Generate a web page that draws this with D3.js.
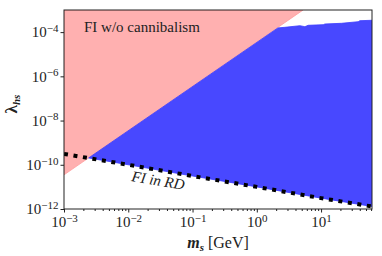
<!DOCTYPE html>
<html>
<head>
<meta charset="utf-8">
<script src="https://cdn.jsdelivr.net/npm/d3@7"></script>
<style>
  body { margin: 0; background: #fff; }
  svg, svg text, svg tspan { font-family: 'Liberation Serif', 'Times New Roman', serif !important; }
</style>
</head>
<body>
<svg id="chart" width="382" height="256"></svg>
<script>
// axis ranges and ticks
var xDomain = [1e-3, 62]
  , yDomain = [1e-12, 1e-3]
  , xMajor = [1e-3, 1e-2, 1e-1, 1, 10]
  , yMajor = [1e-12, 1e-10, 1e-8, 1e-6, 1e-4]

// boundary of "FI w/o cannibalism" (red) region: lambda ~ m^2
var redEdge = [[1e-3, 3.5e-11], [5.25, 1e-3]]

// FI in RD line (dotted)
var fiMass = [1e-3, 1e-2, 1e-1, 1, 10, 62]
  , fiLambda = [3.1e-10, 1.0e-10, 3.1e-11, 1.0e-11, 3.1e-12, 1.3e-12]

// blue region outline
var blueLower = [[2.42e-3, 2.04e-10], [1e-2, 1.0e-10], [1e-1, 3.1e-11], [1, 1.0e-11], [10, 3.1e-12], [62, 1.3e-12]]
var blueTop = [[62, 3.43e-4], [40.1, 3.28e-4], [37.8, 2.96e-4], [20.8, 2.5e-4], [11.5, 2.33e-4],
               [10.8, 2.17e-4], [6.3, 2.03e-4], [5.6, 1.76e-4], [4.68, 1.95e-4], [2.74, 1.65e-4], [2.13, 1.55e-4]]

var margin = { top: 10, right: 10, bottom: 47, left: 64 }
  , W = 382, H = 256

var svg = d3.select('#chart')

var x = d3.scaleLog().domain(xDomain).range([margin.left, W - margin.right])
  , y = d3.scaleLog().domain(yDomain).range([H - margin.bottom, margin.top])

svg.append('clipPath').attr('id', 'clip')
  .append('rect')
  .attr('x', x.range()[0]).attr('y', y.range()[1])
  .attr('width', x.range()[1] - x.range()[0])
  .attr('height', y.range()[0] - y.range()[1])

var plot = svg.append('g').attr('clip-path', 'url(#clip)')
var line = d3.line().x(function (d) { return x(d[0]) }).y(function (d) { return y(d[1]) })

// red region
var redPoly = redEdge.concat([[xDomain[0], yDomain[1]]])
plot.append('path')
  .attr('d', line(redPoly) + 'Z')
  .attr('fill', '#ffb0b0')
  .attr('stroke', '#ff9c9c')
  .attr('stroke-width', 0.8)

// blue region
plot.append('path')
  .attr('d', line(blueLower.concat(blueTop)) + 'Z')
  .attr('fill', '#4848ff')
  .attr('stroke', '#3a3aff')
  .attr('stroke-width', 0.8)

// FI in RD dotted line
plot.append('path')
  .attr('d', line(d3.zip(fiMass, fiLambda)))
  .attr('fill', 'none')
  .attr('stroke', '#000')
  .attr('stroke-width', 4)
  .attr('stroke-dasharray', '4,5.6')

// frame
svg.append('rect')
  .attr('x', x.range()[0]).attr('y', y.range()[1])
  .attr('width', x.range()[1] - x.range()[0])
  .attr('height', y.range()[0] - y.range()[1])
  .attr('fill', 'none').attr('stroke', '#222').attr('stroke-width', 1)

function sup(sel) {
  sel.each(function (d) {
    var t = d3.select(this).text(null)
    var e = Math.round(Math.log10(d))
    t.append('tspan').text('10')
    t.append('tspan').attr('dy', '-0.5em').attr('font-size', 11).text((e < 0 ? '\u2212' : '') + Math.abs(e))
  })
}

// x axis
var minor = []
d3.range(-3, 2).forEach(function (e) {
  d3.range(2, 10).forEach(function (k) {
    var v = k * Math.pow(10, e)
    if (v <= xDomain[1]) minor.push(v)
  })
})
var gx = svg.append('g').attr('transform', 'translate(0,' + y.range()[0] + ')')
var gxMinor = gx.append('g').call(d3.axisBottom(x).tickValues(minor).tickSize(2).tickFormat(''))
gxMinor.selectAll('text').remove()
var gxMajor = gx.append('g').call(d3.axisBottom(x).tickValues(xMajor).tickSize(3.5).tickPadding(4))
gx.selectAll('g').attr('font-family', null)
gx.selectAll('.domain').remove()
gx.selectAll('line').attr('stroke', '#222')
gxMajor.selectAll('.tick text').attr('font-size', 15).attr('fill', '#222').call(sup)

// y axis
var gy = svg.append('g').attr('transform', 'translate(' + x.range()[0] + ',0)')
gy.call(d3.axisLeft(y).tickValues(yMajor).tickSize(3.5).tickPadding(2))
gy.attr('font-family', null)
gy.selectAll('.domain').remove()
gy.selectAll('line').attr('stroke', '#222')
gy.selectAll('.tick text').attr('font-size', 15).attr('fill', '#222').call(sup)

// labels
svg.append('text')
  .attr('x', 84).attr('y', 31.5)
  .attr('font-size', 15).attr('fill', '#222')
  .text('FI w/o cannibalism')

svg.append('text')
  .attr('transform', 'translate(131,181) rotate(9.5)')
  .attr('font-size', 15).attr('font-style', 'italic').attr('fill', '#222')
  .text('FI in RD')

var xl = svg.append('text')
  .attr('x', 218).attr('y', 248)
  .attr('text-anchor', 'middle')
  .attr('font-size', 16).attr('fill', '#222')
xl.append('tspan').attr('font-weight', 'bold').attr('font-style', 'italic').text('m')
xl.append('tspan').attr('font-weight', 'bold').attr('font-style', 'italic').attr('font-size', 11).attr('dy', '3').text('s')
xl.append('tspan').attr('dy', '-3').text(' [GeV]')

var yl = svg.append('text')
  .attr('transform', 'translate(17,104) rotate(-90)')
  .attr('text-anchor', 'middle')
  .attr('font-size', 17).attr('font-weight', 'bold').attr('fill', '#222')
yl.append('tspan').text('\u03bb')
yl.append('tspan').attr('font-size', 11).attr('font-style', 'italic').attr('dy', '3').text('hs')
</script>
</body>
</html>
